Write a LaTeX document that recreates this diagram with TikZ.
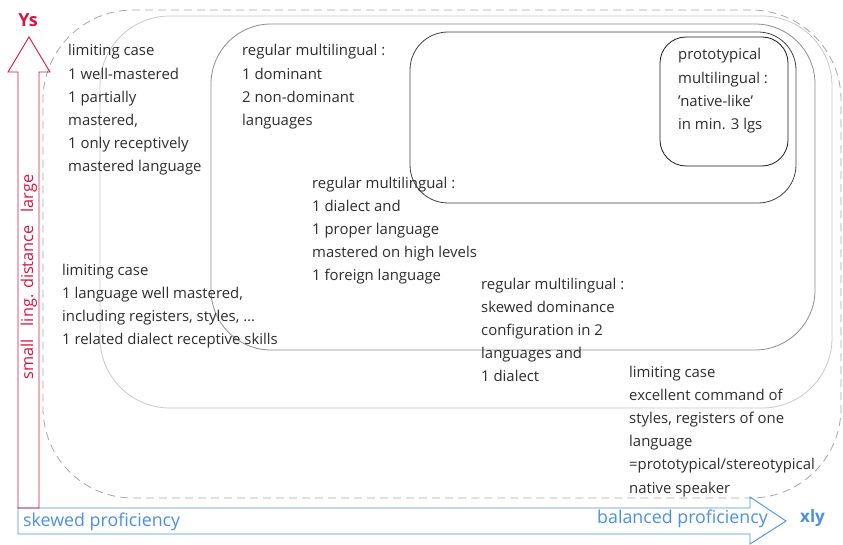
\documentclass[tikz,border=0pt]{standalone}
\usepackage{fontspec}
\setmainfont{Open Sans}
\definecolor{txt}{RGB}{45,45,45}
\definecolor{axred}{RGB}{220,20,60}
\definecolor{axblue}{RGB}{74,144,226}
\begin{document}
\begin{tikzpicture}[x=1pt,y=-1pt,
  setbox/.style={draw, inner sep=0, line width=0.8pt},
  lbl/.style={anchor=base west, inner sep=0, align=left, text=txt,
    font=\fontsize{14.9}{23.2}\selectfont}]
\useasboundingbox (0,0) rectangle (843,545);
% nested sets
\node[setbox, draw=black!35, dash pattern=on 8pt off 5pt, rounded corners=90pt,
  minimum width=798pt, minimum height=488pt] (outer) at (442,254) {};
\node[setbox, draw=black!22, rounded corners=70pt,
  minimum width=732pt, minimum height=392pt] (second) at (466,212) {};
\node[setbox, draw=black!45, rounded corners=60pt,
  minimum width=604pt, minimum height=326pt] (third) at (513,187) {};
\node[setbox, draw=black!75, rounded corners=38pt,
  minimum width=386pt, minimum height=171pt] (fourth) at (603,117.5) {};
\node[setbox, draw=black!90, rounded corners=26pt,
  minimum width=128pt, minimum height=129pt] (proto) at (724,101.5) {};
% axes
\draw[axblue, line width=0.9pt] (18,508) -- (750,508) -- (750,497) -- (786,521)
  -- (750,544) -- (750,534) -- (18,534) -- cycle;
\draw[axred, line width=0.9pt] (18,508) -- (18,72) -- (8,72) -- (29,37) -- (50,72)
  -- (39,72) -- (39,508) -- cycle;
\node[text=axred, font=\fontsize{18}{18}\selectfont\bfseries, anchor=base, inner sep=0] (ys) at (28,27) {Ys};
\node[text=axblue, font=\fontsize{17}{17}\selectfont\bfseries, anchor=base west, inner sep=0] (xly) at (800,522) {xly};
\node[text=axred, font=\fontsize{16.3}{16}\selectfont, rotate=90, inner sep=0] (dist) at (29,277)
  {small\hspace{0.8em}ling. distance\hspace{0.8em}large};
\node[text=axblue, font=\fontsize{17.8}{18}\selectfont, anchor=base west, inner sep=0] (skew) at (23,526) {skewed proficiency};
\node[text=axblue, font=\fontsize{17.8}{18}\selectfont, anchor=base east, inner sep=0] (bal) at (768,523) {balanced proficiency};
% labels (anchored at the baseline of the last line)
\node[lbl] (t1) at (68,172) {limiting case\\1 well-mastered\\1 partially\\mastered,\\1 only receptively\\mastered language};
\node[lbl] (t2) at (242,125.6) {regular multilingual :\\1 dominant\\2 non-dominant\\languages};
\node[lbl] (t3) at (678,129.6) {prototypical\\multilingual :\\’native-like’\\in min. 3 lgs};
\node[lbl] (t4) at (312,280.8) {regular multilingual :\\1 dialect and\\1 proper language\\mastered on high levels\\1 foreign language};
\node[lbl] (t5) at (62,344.6) {limiting case\\1 language well mastered,\\including registers, styles, …\\1 related dialect receptive skills};
\node[lbl] (t6) at (481,381.8) {regular multilingual :\\skewed dominance\\configuration in 2\\languages and\\1 dialect};
\node[lbl] (t7) at (629,493) {limiting case\\excellent command of\\styles, registers of one\\language\\=prototypical/stereotypical\\native speaker};
\end{tikzpicture}
\end{document}
